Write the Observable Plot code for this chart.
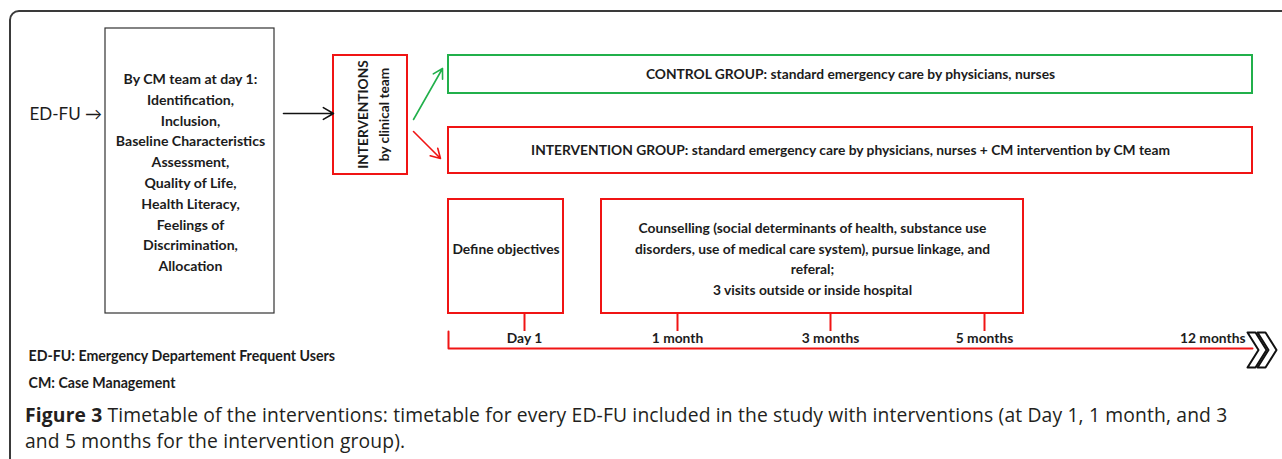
<!DOCTYPE html>
<html><head><meta charset="utf-8">
<script src="https://cdn.jsdelivr.net/npm/d3@7"></script>
<script src="https://cdn.jsdelivr.net/npm/@observablehq/plot@0.6"></script>
<style>
html,body{margin:0;padding:0;background:#fff;overflow:hidden;width:1282px;height:459px}
#frame{position:absolute;left:8.5px;top:10px;width:1320px;height:480px;border:2px solid #3a3a3a;border-radius:10px;box-sizing:border-box}
#chart{position:absolute;left:0;top:0}
#caption{position:absolute;left:25px;top:402px;font-family:"Open Sans",sans-serif;font-size:19.3px;letter-spacing:0.15px;line-height:26px;color:#231f20;white-space:nowrap}
</style></head><body>
<div id="frame"></div>
<div id="chart"></div>
<div id="caption"></div>
<script>
// ---- content ----
const entryLabel = "ED-FU \u2192";
const inclusionSteps = ["By CM team at day 1:", "Identification,", "Inclusion,", "Baseline Characteristics",
  "Assessment,", "Quality of Life,", "Health Literacy,", "Feelings of", "Discrimination,", "Allocation"];
const interventionsLabel = ["INTERVENTIONS", "by clinical team"];
const groups = ["CONTROL GROUP: standard emergency care by physicians, nurses",
  "INTERVENTION GROUP: standard emergency care by physicians, nurses + CM intervention by CM team"];
const activities = ["Define objectives",
  "Counselling (social determinants of health, substance use\ndisorders, use of medical care system), pursue linkage, and\nreferal;\n3 visits outside or inside hospital"];
const milestones = ["Day 1", "1 month", "3 months", "5 months"];
const endMilestone = "12 months";
const abbreviations = ["ED-FU: Emergency Departement Frequent Users", "CM: Case Management"];
const captionTitle = "Figure 3";
const captionLines = ["Timetable of the interventions: timetable for every ED-FU included in the study with interventions (at Day 1, 1 month, and 3",
  "and 5 months for the intervention group)."];

// ---- layout (pixel frame) ----
const W = 1282, H = 400;
const RED = "#f01414", GREEN = "#21b04b", INK = "#1c1c1c";
const blackBox = [{x1: 105, x2: 274, y1: 28, y2: 313}];
const redBoxes = [
  {x1: 333, x2: 407, y1: 55, y2: 174},
  {x1: 448, x2: 1252, y1: 127, y2: 173},
  {x1: 448, x2: 563, y1: 199, y2: 313},
  {x1: 601, x2: 1023, y1: 199, y2: 313}];
const greenBoxes = [{x1: 448, x2: 1252, y1: 55, y2: 93}];
const groupPos = [{x: 850, y: 74}, {x: 850, y: 150}];
const activityPos = [{x: 505.5, y: 247}, {x: 812, y: 257}];
const milestoneX = [524, 677, 830, 984];
const endX = 1245;
const timelinePts = [[448, 331], [448, 348], [1252, 348]];
const chevrons = [
  [[1247,332],[1255,332],[1266,349.5],[1255,367],[1247,367],[1258,349.5],[1247,332]],
  [[1257,332],[1265,332],[1276,349.5],[1265,367],[1257,367],[1268,349.5],[1257,332]]
].flatMap((pts, k) => pts.map(p => ({x: p[0], y: p[1], k})));

const F = "Lato, sans-serif";
const FS = 13.8;
const chart = Plot.plot({
  width: W, height: H, margin: 0,
  x: {domain: [0, W], range: [0, W], axis: null},
  y: {domain: [0, H], range: [0, H], axis: null},
  style: {background: "transparent", fontFamily: F, color: INK},
  marks: [
    Plot.rect(blackBox, {x1: "x1", x2: "x2", y1: "y1", y2: "y2", fill: "none", stroke: "#333", strokeWidth: 1.2}),
    Plot.rect(redBoxes, {x1: "x1", x2: "x2", y1: "y1", y2: "y2", fill: "none", stroke: RED, strokeWidth: 2}),
    Plot.rect(greenBoxes, {x1: "x1", x2: "x2", y1: "y1", y2: "y2", fill: "none", stroke: GREEN, strokeWidth: 2}),
    Plot.text([entryLabel], {x: () => 29, y: () => 114, text: d => d, textAnchor: "start", fontSize: 17, fill: INK}),
    Plot.text([inclusionSteps.join("\n")], {x: () => 190, y: () => 170.5, text: d => d, fontSize: 14.1, lineHeight: 1.475, fill: INK, fontWeight: 700}),
    Plot.arrow([{x1: 283, y1: 113, x2: 333, y2: 113}], {x1: "x1", y1: "y1", x2: "x2", y2: "y2", stroke: "#111", strokeWidth: 1.6, headLength: 11}),
    Plot.text([interventionsLabel.join("\n")], {x: () => 371, y: () => 114, text: d => d, rotate: -90, fontSize: 13.7, lineHeight: 1.6, fill: INK, fontWeight: 700}),
    Plot.arrow([{x1: 413, y1: 119, x2: 442, y2: 68}], {x1: "x1", y1: "y1", x2: "x2", y2: "y2", stroke: GREEN, strokeWidth: 1.6, headLength: 10}),
    Plot.arrow([{x1: 413, y1: 131, x2: 440, y2: 158}], {x1: "x1", y1: "y1", x2: "x2", y2: "y2", stroke: RED, strokeWidth: 1.6, headLength: 10}),
    Plot.text(groups, {x: (d, i) => groupPos[i].x, y: (d, i) => groupPos[i].y, text: d => d, fontSize: FS, fill: INK, fontWeight: 700}),
    Plot.text(activities, {x: (d, i) => activityPos[i].x, y: (d, i) => activityPos[i].y, text: d => d, fontSize: FS, lineHeight: 1.5, fill: INK, fontWeight: 700}),
    Plot.line(timelinePts, {x: d => d[0], y: d => d[1], stroke: RED, strokeWidth: 2}),
    Plot.ruleX(milestones, {x: (d, i) => milestoneX[i], y1: () => 313, y2: () => 331, stroke: RED, strokeWidth: 2}),
    Plot.text(milestones, {x: (d, i) => milestoneX[i], y: () => 338, text: d => d, fontSize: FS, fontWeight: 700, fill: INK}),
    Plot.text([endMilestone], {x: () => endX, y: () => 338, text: d => d, fontSize: FS, fontWeight: 700, fill: INK, textAnchor: "end"}),
    Plot.line(chevrons, {x: "x", y: "y", z: "k", stroke: "#111", strokeWidth: 2, fill: "white", curve: "linear"}),
    Plot.text(abbreviations, {x: () => 28, y: (d, i) => 356 + i * 27, text: d => d, textAnchor: "start", fontSize: 14.2, fill: INK, fontWeight: 700})
  ]
});
document.getElementById("chart").append(chart);

const cap = document.getElementById("caption");
const b = document.createElement("b"); b.textContent = captionTitle; cap.append(b);
cap.append(" " + captionLines[0]); cap.append(document.createElement("br")); cap.append(captionLines[1]);
</script>
</body></html>
